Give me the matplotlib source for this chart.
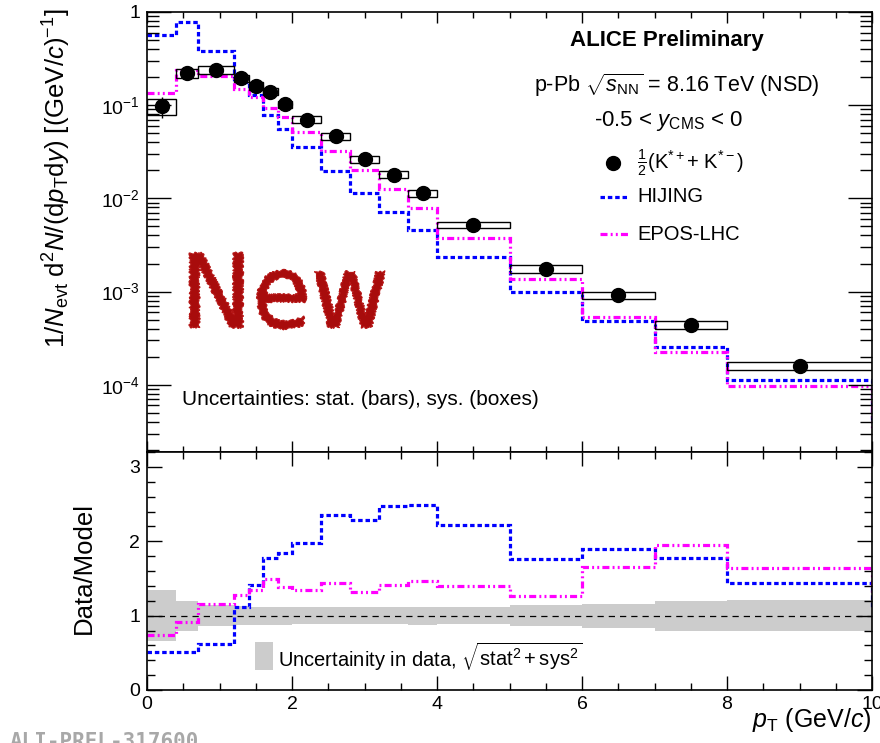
import matplotlib
matplotlib.use("Agg")
import matplotlib.pyplot as plt
import numpy as np
from matplotlib.patches import Rectangle, PathPatch
from matplotlib.textpath import TextPath
from matplotlib.font_manager import FontProperties
from matplotlib.ticker import FixedLocator, MultipleLocator, LogLocator, FuncFormatter, NullFormatter
from matplotlib.transforms import Affine2D

plt.rcParams["font.family"] = ["Liberation Sans", "DejaVu Sans"]
plt.rcParams["mathtext.fontset"] = "custom"
plt.rcParams["mathtext.rm"] = "Liberation Sans"
plt.rcParams["mathtext.it"] = "Liberation Sans:italic"
plt.rcParams["mathtext.bf"] = "Liberation Sans:bold"

# pT bin edges (GeV/c)
edges = [0.0, 0.4, 0.7, 1.2, 1.4, 1.6, 1.8, 2.0, 2.4, 2.8, 3.2, 3.6, 4.0, 5.0, 6.0, 7.0, 8.0, 10.0]
# model bins go one further, clipped at the axis edge
model_edges = edges + [12.0]

# K* yield, 1/2(K*+ + K*-)
data_y = [0.098, 0.22, 0.238, 0.194, 0.161, 0.140, 0.103, 0.070, 0.0468, 0.0265,
          0.0180, 0.0114, 0.0052, 0.00175, 0.00091, 0.00044, 0.00016]
data_stat = [0.25, 0.03, 0.03, 0.03, 0.03, 0.03, 0.03, 0.03, 0.03, 0.03,
             0.03, 0.04, 0.04, 0.05, 0.06, 0.08, 0.10]
data_sys = [0.20, 0.11, 0.10, 0.09, 0.09, 0.09, 0.09, 0.085, 0.085, 0.085,
            0.085, 0.085, 0.085, 0.09, 0.09, 0.10, 0.10]

hijing = [0.566, 0.787, 0.384, 0.178, 0.128, 0.079, 0.0558, 0.0356, 0.0197, 0.0115,
          0.00713, 0.0046, 0.00234, 0.00098, 0.00048, 0.000252, 0.000112, 4.2e-5]
epos = [0.134, 0.238, 0.205, 0.151, 0.121, 0.094, 0.075, 0.0516, 0.0323, 0.0204,
        0.0127, 0.0079, 0.00378, 0.00137, 0.00054, 0.000223, 0.0000977, 3.6e-5]

# ratio panel
ratio_hijing = [0.51, 0.51, 0.62, 1.12, 1.41, 1.77, 1.845, 1.97, 2.35, 2.29,
                2.47, 2.49, 2.22, 1.76, 1.89, 1.77, 1.44, 1.10]
ratio_epos = [0.74, 0.92, 1.16, 1.28, 1.34, 1.49, 1.38, 1.34, 1.445, 1.32,
              1.41, 1.47, 1.40, 1.27, 1.65, 1.95, 1.64, 1.30]
ratio_unc = [0.34, 0.20, 0.14, 0.13, 0.12, 0.12, 0.12, 0.11, 0.11, 0.11,
             0.11, 0.12, 0.11, 0.14, 0.16, 0.20, 0.21]

BLUE = "#0000ff"
MAGENTA = "#ff00ff"
HIJ_LS = (0, (1.4, 0.9))
EPOS_LS = (0, (2.2, 1.0, 0.6, 1.0, 0.6, 1.0))

W, H = 880, 743
fig = plt.figure(figsize=(8.8, 7.43), dpi=100)
ax1 = fig.add_axes([147 / W, (H - 452) / H, 725 / W, 440 / H])
ax2 = fig.add_axes([147 / W, (H - 690) / H, 725 / W, 238 / H])

lo = np.array(edges[:-1])
hi = np.array(edges[1:])
xc = (lo + hi) / 2
y = np.array(data_y)

# ---- top panel
ax1.set_yscale("log")
ax1.stairs(hijing, model_edges, baseline=None, color=BLUE, lw=2.3, ls=HIJ_LS)
ax1.stairs(epos, model_edges, baseline=None, color=MAGENTA, lw=2.3, ls=EPOS_LS)
for l, h, v, s in zip(lo, hi, y, data_sys):
    ax1.add_patch(Rectangle((l, v * (1 - s)), h - l, 2 * v * s,
                            fill=False, edgecolor="black", lw=1.0, zorder=3))
ax1.errorbar(xc, y, yerr=y * np.array(data_stat), fmt="o", color="black",
             ms=10, elinewidth=1.0, capsize=0, zorder=4)
ax1.set_xlim(0, 10)
ax1.set_ylim(1.9e-5, 1)


def log_fmt(v, pos):
    if abs(v - 1) < 1e-9:
        return "1"
    return r"$10^{%d}$" % int(round(np.log10(v)))


ax1.yaxis.set_major_locator(LogLocator(base=10, numticks=10))
ax1.yaxis.set_minor_locator(LogLocator(base=10, subs=np.arange(2, 10), numticks=20))
ax1.yaxis.set_major_formatter(FuncFormatter(log_fmt))
ax1.yaxis.set_minor_formatter(NullFormatter())
ax1.xaxis.set_major_locator(MultipleLocator(2))
ax1.xaxis.set_minor_locator(MultipleLocator(0.5))
ax1.tick_params(axis="x", which="both", labelbottom=False)
ax1.tick_params(axis="y", which="major", length=17, labelsize=14, pad=5)
ax1.tick_params(axis="y", which="minor", length=8.5)
ax1.tick_params(axis="x", which="major", length=8)
ax1.tick_params(axis="x", which="minor", length=4)
ax1.tick_params(which="both", direction="in", top=True, right=True, width=1.0)

# text block
ax1.text(0.717, 0.936, "ALICE Preliminary", transform=ax1.transAxes, ha="center",
         va="center", fontsize=16, fontweight="bold")
ax1.text(0.731, 0.834, r"p-Pb $\sqrt{s_{\mathrm{NN}}}$ = 8.16 TeV (NSD)",
         transform=ax1.transAxes, ha="center", va="center", fontsize=15.5)
ax1.text(0.719, 0.752, r"-0.5 < $y_{\mathrm{CMS}}$ < 0", transform=ax1.transAxes,
         ha="center", va="center", fontsize=16)

# legend
ax1.plot([0.643], [0.657], "o", color="black", ms=10, transform=ax1.transAxes)
ax1.text(0.676, 0.657, r"$\frac{1}{2}$(K$^{*+}$+ K$^{*-}$)", transform=ax1.transAxes,
         ha="left", va="center", fontsize=14.5)
ax1.plot([0.625, 0.663], [0.580, 0.580], color=BLUE, lw=2.3, ls=HIJ_LS,
         transform=ax1.transAxes)
ax1.text(0.676, 0.580, "HIJING", transform=ax1.transAxes, ha="left", va="center",
         fontsize=14.5)
ax1.plot([0.625, 0.663], [0.495, 0.495], color=MAGENTA, lw=2.3, ls=EPOS_LS,
         transform=ax1.transAxes)
ax1.text(0.676, 0.495, "EPOS-LHC", transform=ax1.transAxes, ha="left", va="center",
         fontsize=14.5)

ax1.text(0.048, 0.12, "Uncertainties: stat. (bars), sys. (boxes)",
         transform=ax1.transAxes, ha="left", va="center", fontsize=15)

# "New" badge, rough hand-drawn look
tp = TextPath((0, 0), "New", size=1, prop=FontProperties(family="DejaVu Sans"))
ext = tp.get_extents()
bx0, by0, bw, bh = 190, 253, 195, 76
tr = (Affine2D().translate(-ext.x0, -ext.y0)
      .scale(bw / W / ext.width, bh / H / ext.height)
      .translate(bx0 / W, (H - by0 - bh) / H) + fig.transFigure)
badge = PathPatch(tp, transform=tr, facecolor="#a80c0c", edgecolor="#b51515", lw=0.8)
badge.set_sketch_params(scale=1.0, length=3, randomness=6)
fig.add_artist(badge)

# ---- ratio panel
ax2.stairs(1 + np.array(ratio_unc), edges, baseline=1 - np.array(ratio_unc),
           fill=True, color="#cccccc", lw=0)
ax2.axhline(1, color="black", lw=0.9, ls=(0, (5, 4)))
ax2.stairs(ratio_hijing, model_edges, baseline=None, color=BLUE, lw=2.3, ls=HIJ_LS)
ax2.stairs(ratio_epos, model_edges, baseline=None, color=MAGENTA, lw=2.3, ls=EPOS_LS)
ax2.add_patch(Rectangle((1.49, 0.27), 0.25, 0.38, color="#cccccc", lw=0))
ax2.text(1.81, 0.44, r"Uncertainity in data, $\sqrt{\mathrm{stat}^2 + \mathrm{sys}^2}$",
         ha="left", va="center", fontsize=14.5)
ax2.set_xlim(0, 10)
ax2.set_ylim(0, 3.2)
ax2.xaxis.set_major_locator(MultipleLocator(2))
ax2.xaxis.set_minor_locator(MultipleLocator(0.5))
ax2.yaxis.set_major_locator(FixedLocator([0, 1, 2, 3]))
ax2.yaxis.set_minor_locator(MultipleLocator(0.2))
ax2.tick_params(which="both", direction="in", top=True, right=True, width=1.0,
                labelsize=14)
ax2.tick_params(axis="y", which="major", length=11, pad=5)
ax2.tick_params(axis="y", which="minor", length=6)
ax2.tick_params(axis="x", which="major", length=10, pad=4)
ax2.tick_params(axis="x", which="minor", length=5)

for a in (ax1, ax2):
    for sp in a.spines.values():
        sp.set_linewidth(1.2)

fig.text(57 / W, (H - 178) / H,
         r"1/$N_{\mathrm{evt}}$ d$^{2}$$N$/(d$p_{\mathrm{T}}$d$y$) [(GeV/$c$)$^{-1}$]",
         rotation=90, ha="center", va="center", fontsize=18.5)
fig.text(84 / W, (H - 568) / H, "Data/Model", rotation=90, ha="center", va="center",
         fontsize=18.5)
fig.text(872 / W, (H - 720) / H, r"$p_{\mathrm{T}}$ (GeV/$c$)", ha="right", va="center",
         fontsize=18)
fig.text(10 / W, -5 / H, "ALI-PREL-317600", ha="left", va="baseline", fontsize=15,
         family="DejaVu Sans Mono", fontweight="bold", color="#a8a8a8")

fig.savefig("out.png", dpi=100)
